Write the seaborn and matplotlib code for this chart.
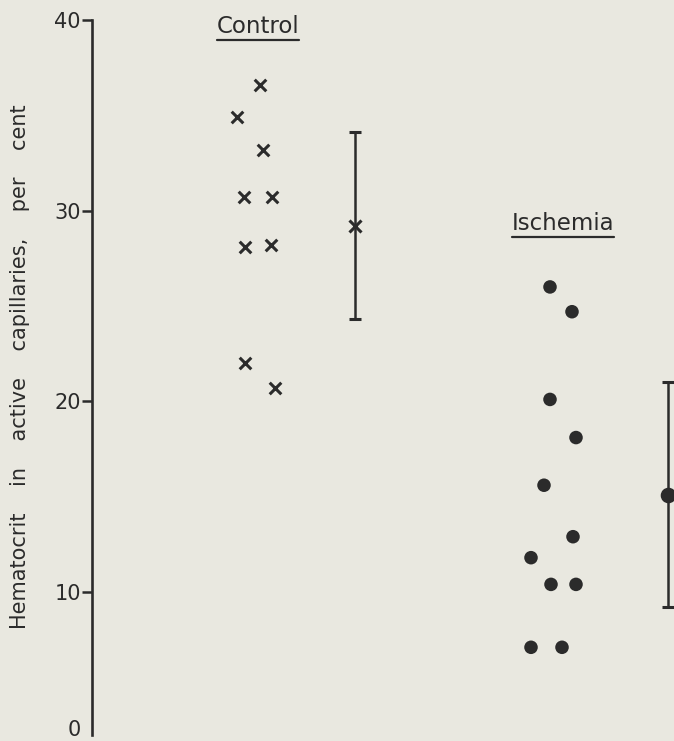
import numpy as np
import pandas as pd
import matplotlib
matplotlib.use('Agg')
import matplotlib.pyplot as plt
import matplotlib.transforms as mtransforms
from matplotlib.lines import Line2D
import seaborn as sns

# Hematocrit values (per cent)
control_vals = [36.6, 34.9, 33.2, 30.7, 30.7, 28.1, 28.2, 22.0, 20.7]
control_cols = [1.68, 1.45, 1.71, 1.52, 1.80, 1.53, 1.79, 1.53, 1.83]
ischemia_vals = [26.0, 24.7, 20.1, 18.1, 15.6, 12.9, 11.8, 10.4, 10.4, 7.1, 7.1]
ischemia_cols = [4.58, 4.80, 4.58, 4.84, 4.52, 4.81, 4.39, 4.59, 4.84, 4.39, 4.70]

# mean +/- SD shown to the right of each group
group_names = ['Control', 'Ischemia']
group_means = [29.2, 15.1]
group_sds = [4.9, 5.9]
summary_cols = [2.63, 5.76]

y_ticks = [10, 20, 30, 40]

INK = '#2b2b2b'
PAPER = '#e9e8e0'

sns.set_style('white')
plt.rcParams['font.family'] = ['DejaVu Sans']

df = pd.DataFrame({
    'group': ['Control'] * len(control_vals) + ['Ischemia'] * len(ischemia_vals),
    'value': control_vals + ischemia_vals,
    'col': control_cols + ischemia_cols,
})

fig = plt.figure(figsize=(6.74, 7.41), dpi=100, facecolor=PAPER)
ax = fig.add_axes([92 / 674, 6 / 741, 1 - 92 / 674, 715 / 741])
ax.set_facecolor(PAPER)

ctrl = df[df['group'] == 'Control']
isch = df[df['group'] == 'Ischemia']
sns.scatterplot(data=ctrl, x='col', y='value', marker='x', s=70,
                color=INK, linewidth=2.2, ax=ax, legend=False)
sns.scatterplot(data=isch, x='col', y='value', marker='o', s=95,
                color=INK, edgecolor='none', ax=ax, legend=False)

# mean +/- SD bars
for name, m, sd, c in zip(group_names, group_means, group_sds, summary_cols):
    mk = 'x' if name == 'Control' else 'o'
    ax.errorbar(c, m, yerr=sd, fmt=mk, color=INK, ecolor=INK,
                elinewidth=1.8, capsize=4.5, capthick=1.8,
                markersize=9, markeredgewidth=2.2, clip_on=True)

ax.set_xlim(0, 5.82)
ax.set_ylim(2.5, 40)

# axis styling
for side in ['top', 'right', 'bottom']:
    ax.spines[side].set_visible(False)
ax.spines['left'].set_color(INK)
ax.spines['left'].set_linewidth(1.9)
ax.set_xticks([])
ax.set_yticks(y_ticks)
ax.set_yticklabels([str(t) for t in y_ticks])
ax.tick_params(axis='y', left=True, direction='out', length=7, width=1.8,
               color=INK, labelcolor=INK, labelsize=15, pad=1)
ax.set_xlabel('')
ax.set_ylabel('Hematocrit    in    active    capillaries,    per    cent',
              fontsize=15, color=INK)
ax.yaxis.set_label_coords(-0.106, 0.515)

# "0" at the foot of the axis
trans = mtransforms.blended_transform_factory(ax.transAxes, ax.transData)
ax.text(-0.03, 2.75, '0', transform=trans, ha='center', va='center',
        fontsize=15, color=INK, clip_on=False)

# group titles, underlined
titles = [
    ax.text(1.66, 39.3, 'Control', ha='center', va='baseline', fontsize=16.5, color=INK),
    ax.text(4.71, 29.0, 'Ischemia', ha='center', va='baseline', fontsize=16.5, color=INK),
]
fig.canvas.draw()
inv = fig.transFigure.inverted()
for t in titles:
    bb = t.get_window_extent()
    (x0, y0), (x1, _) = inv.transform([(bb.x0, bb.y0 - 2), (bb.x1, bb.y0)])
    fig.add_artist(Line2D([x0, x1], [y0, y0], color=INK, linewidth=1.6,
                          transform=fig.transFigure))

plt.savefig('out.png', dpi=100, facecolor=PAPER)
plt.close()
